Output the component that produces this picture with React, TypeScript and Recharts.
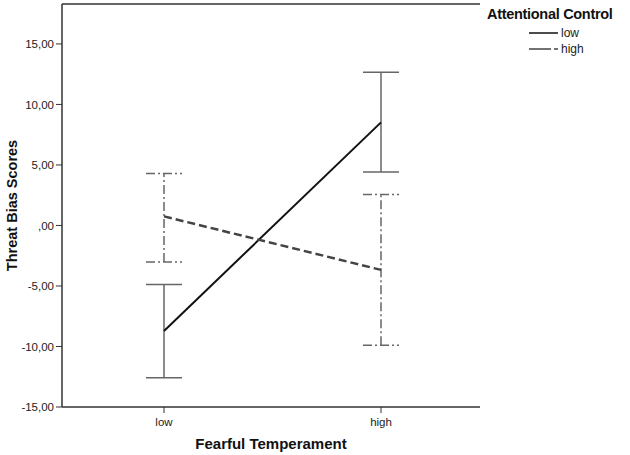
import React from 'react';
import { LineChart, Line, XAxis, YAxis, ErrorBar, Label, ReferenceLine } from 'recharts';

const categories = ['low', 'high'];
const lowACMean = [-8.72, 8.52];
const lowACLower = [-12.59, 4.41];
const lowACUpper = [-4.88, 12.67];
const highACMean = [0.75, -3.67];
const highACLower = [-3.02, -9.89];
const highACUpper = [4.3, 2.56];
const yTicks = [-15, -10, -5, 0, 5, 10, 15];
const yDomain = [-15, 18.3];
const legendTitle = 'Attentional Control';
const seriesNames = ['low', 'high'];

const data = categories.map((c, i) => ({
  ft: c,
  lowAC: lowACMean[i],
  highAC: highACMean[i],
  lowErr: [lowACMean[i] - lowACLower[i], lowACUpper[i] - lowACMean[i]],
  highErr: [highACMean[i] - highACLower[i], highACUpper[i] - highACMean[i]],
}));

const fmt = (v: number) => (v === 0 ? ',00' : v.toFixed(2).replace('.', ','));
const FONT = '"Liberation Sans", Arial, sans-serif';

export default function App() {
  return (
    <div style={{ position: 'fixed', left: 0, top: 0, width: 630, height: 455, background: '#fff', fontFamily: FONT }}>
      <LineChart width={630} height={455} data={data} margin={{ top: 4, right: 150, bottom: 0, left: 0 }}>
        <XAxis
          dataKey="ft"
          type="category"
          padding={{ left: 102, right: 99 }}
          height={48}
          tickSize={6}
          tickMargin={5}
          tick={{ fill: '#222', fontSize: 11.5, fontFamily: FONT }}
          tickLine={{ stroke: '#333' }}
          axisLine={{ stroke: '#333', strokeWidth: 1.5 }}
        >
          <Label value="Fearful Temperament" position="insideBottom" offset={6} style={{ fontWeight: 'bold', fontSize: 15, fill: '#111', fontFamily: FONT }} />
        </XAxis>
        <YAxis
          type="number"
          domain={yDomain}
          ticks={yTicks}
          allowDataOverflow
          width={62}
          tickFormatter={fmt}
          tickSize={6}
          tick={{ fill: '#222', fontSize: 11.5, fontFamily: FONT }}
          tickLine={{ stroke: '#333' }}
          axisLine={{ stroke: '#333', strokeWidth: 1.5 }}
        >
          <Label value="Threat Bias Scores" angle={-90} position="insideLeft" offset={12} style={{ fontWeight: 'bold', fontSize: 14.5, fill: '#111', fontFamily: FONT, textAnchor: 'middle' }} />
        </YAxis>
        <YAxis
          yAxisId="right"
          orientation="right"
          type="number"
          domain={[0, 1]}
          width={0}
          tick={false}
          tickLine={false}
          axisLine={{ stroke: '#333', strokeWidth: 1.5 }}
        />
        <ReferenceLine y={yDomain[1]} stroke="#333" strokeWidth={1.5} ifOverflow="visible" />
        <Line dataKey="lowAC" stroke="#111" strokeWidth={2} dot={false} isAnimationActive={false}>
          <ErrorBar dataKey="lowErr" width={18} stroke="#666" strokeWidth={1.5} direction="y" isAnimationActive={false} />
        </Line>
        <Line dataKey="highAC" stroke="#444" strokeWidth={2.5} strokeDasharray="8 4" dot={false} isAnimationActive={false}>
          <ErrorBar dataKey="highErr" width={18} stroke="#666" strokeWidth={1.5} strokeDasharray="9 3 2 3" direction="y" isAnimationActive={false} />
        </Line>
      </LineChart>
      <div style={{ position: 'absolute', left: 487, top: 6 }}>
        <div style={{ fontWeight: 'bold', fontSize: 14.5, color: '#111', letterSpacing: -0.3 }}>{legendTitle}</div>
        {seriesNames.map((n, i) => (
          <div key={n} style={{ display: 'flex', alignItems: 'center', marginLeft: 42, height: 16, marginTop: i === 0 ? 3 : 0 }}>
            <svg width={30} height={10}>
              <line x1={0} y1={5} x2={29} y2={5} stroke={i === 0 ? '#111' : '#444'} strokeWidth={1.5} strokeDasharray={i === 0 ? undefined : '22 3 4 3'} />
            </svg>
            <span style={{ fontSize: 12, color: '#222', marginLeft: 2 }}>{n}</span>
          </div>
        ))}
      </div>
    </div>
  );
}
